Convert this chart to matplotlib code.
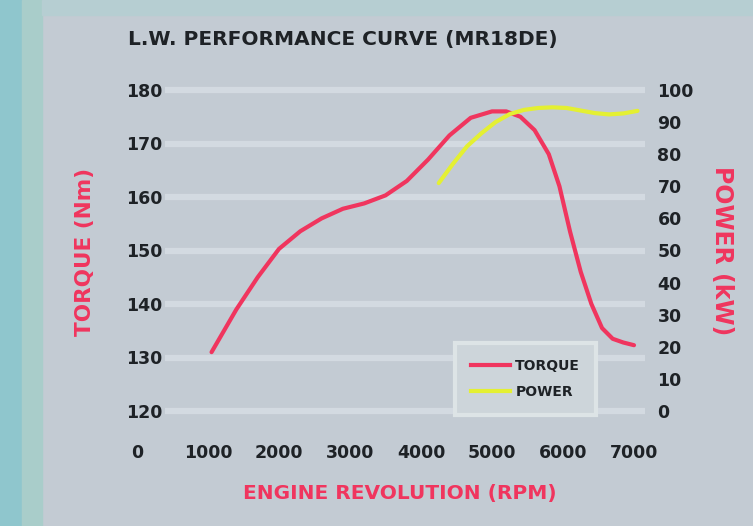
import matplotlib.pyplot as plt
from matplotlib.patches import Rectangle
from matplotlib.lines import Line2D

# Torque curve (rpm, Nm)
torque_rpm = [1050, 1400, 1700, 2000, 2300, 2600, 2900, 3200, 3500, 3800, 4100,
              4400, 4700, 5000, 5200, 5400, 5600, 5800, 5950, 6100, 6250, 6400,
              6550, 6700, 6850, 7000]
torque_nm = [131, 139, 145, 150.3, 153.6, 156, 157.8, 158.8, 160.3, 163, 167,
             171.5, 174.8, 176, 176, 175, 172.5, 168, 162, 153.5, 146, 140,
             135.5, 133.5, 132.8, 132.3]

# Power curve (rpm, kW)
power_rpm = [4250, 4450, 4650, 4850, 5050, 5250, 5450, 5650, 5850, 6050, 6250,
             6450, 6650, 6850, 7050]
power_kw = [71, 77, 82.5, 86.5, 90, 92.5, 93.8, 94.4, 94.6, 94.4, 93.6,
            92.8, 92.4, 92.7, 93.5]

torque_ticks = [120, 130, 140, 150, 160, 170, 180]
power_ticks = [0, 10, 20, 30, 40, 50, 60, 70, 80, 90, 100]
rpm_ticks = [0, 1000, 2000, 3000, 4000, 5000, 6000, 7000]

RED = "#f0355e"
YELLOW = "#e4f032"
BG = "#c3cbd3"
DARK = "#1e2226"

fig = plt.figure(figsize=(7.53, 5.26), dpi=100, facecolor=BG)

# side / top strips of the page
fig.patches.append(Rectangle((0, 0), 22 / 753, 1, transform=fig.transFigure,
                             color="#8fc6cd", zorder=0))
fig.patches.append(Rectangle((22 / 753, 0), 20 / 753, 1, transform=fig.transFigure,
                             color="#a9cdca", zorder=0))
fig.patches.append(Rectangle((42 / 753, 1 - 15 / 526), 1, 15 / 526, transform=fig.transFigure,
                             color="#b6ced2", zorder=0))

ax = fig.add_axes([137 / 753, (526 - 421.7) / 526, 508 / 753, 342.4 / 526])
ax.set_facecolor("none")
for s in ax.spines.values():
    s.set_visible(False)

ax.set_xlim(0, 7155)
ax.set_ylim(118, 182)
ax.hlines(torque_ticks, 400, 7155, color="#d3dae1", linewidth=4.5, zorder=1)

ax.plot(torque_rpm, torque_nm, color=RED, linewidth=3, solid_joinstyle="round",
        solid_capstyle="round", zorder=4)

ax2 = ax.twinx()
ax2.set_ylim(-10 / 3, 310 / 3)
for s in ax2.spines.values():
    s.set_visible(False)
ax2.plot(power_rpm, power_kw, color=YELLOW, linewidth=3, solid_joinstyle="round",
         solid_capstyle="round", zorder=3)

ax.set_yticks(torque_ticks)
ax.set_xticks(rpm_ticks)
ax2.set_yticks(power_ticks)
ax.tick_params(axis="y", length=0, pad=-18.5, labelsize=12.5, labelcolor=DARK)
ax.tick_params(axis="x", length=0, pad=16, labelsize=12.5, labelcolor=DARK)
ax2.tick_params(axis="y", length=0, pad=9, labelsize=12.5, labelcolor=DARK)
for lbl in ax.get_xticklabels() + ax.get_yticklabels() + ax2.get_yticklabels():
    lbl.set_fontweight("bold")

# legend box
handles = [Line2D([], [], color=RED, linewidth=3), Line2D([], [], color=YELLOW, linewidth=3)]
leg = ax2.legend(handles, ["TORQUE", "POWER"], loc="upper left",
                 bbox_to_anchor=(0.612, 0.25), handlelength=2.8, handletextpad=0.4,
                 borderpad=1.15, labelspacing=0.85, fancybox=False,
                 facecolor="#cdd5da", edgecolor="#dde4e6", framealpha=1,
                 prop={"weight": "bold", "size": 10})
leg.get_frame().set_linewidth(3)
for t in leg.get_texts():
    t.set_color(DARK)

# titles and axis labels
fig.text(128 / 753, 1 - 40 / 526, "L.W. PERFORMANCE CURVE (MR18DE)", fontsize=14.5,
         fontweight="bold", color=DARK, va="center", ha="left")
fig.text(85 / 753, 1 - 252 / 526, "TORQUE (Nm)", fontsize=15.5, fontweight="bold",
         color=RED, rotation=90, va="center", ha="center")
fig.text(722 / 753, 1 - 251 / 526, "POWER (kW)", fontsize=17, fontweight="bold",
         color=RED, rotation=270, va="center", ha="center")
fig.text(400 / 753, 1 - 493 / 526, "ENGINE REVOLUTION (RPM)", fontsize=14.5,
         fontweight="bold", color=RED, va="center", ha="center")

plt.savefig("out.png", dpi=100, facecolor=BG)
plt.close()
